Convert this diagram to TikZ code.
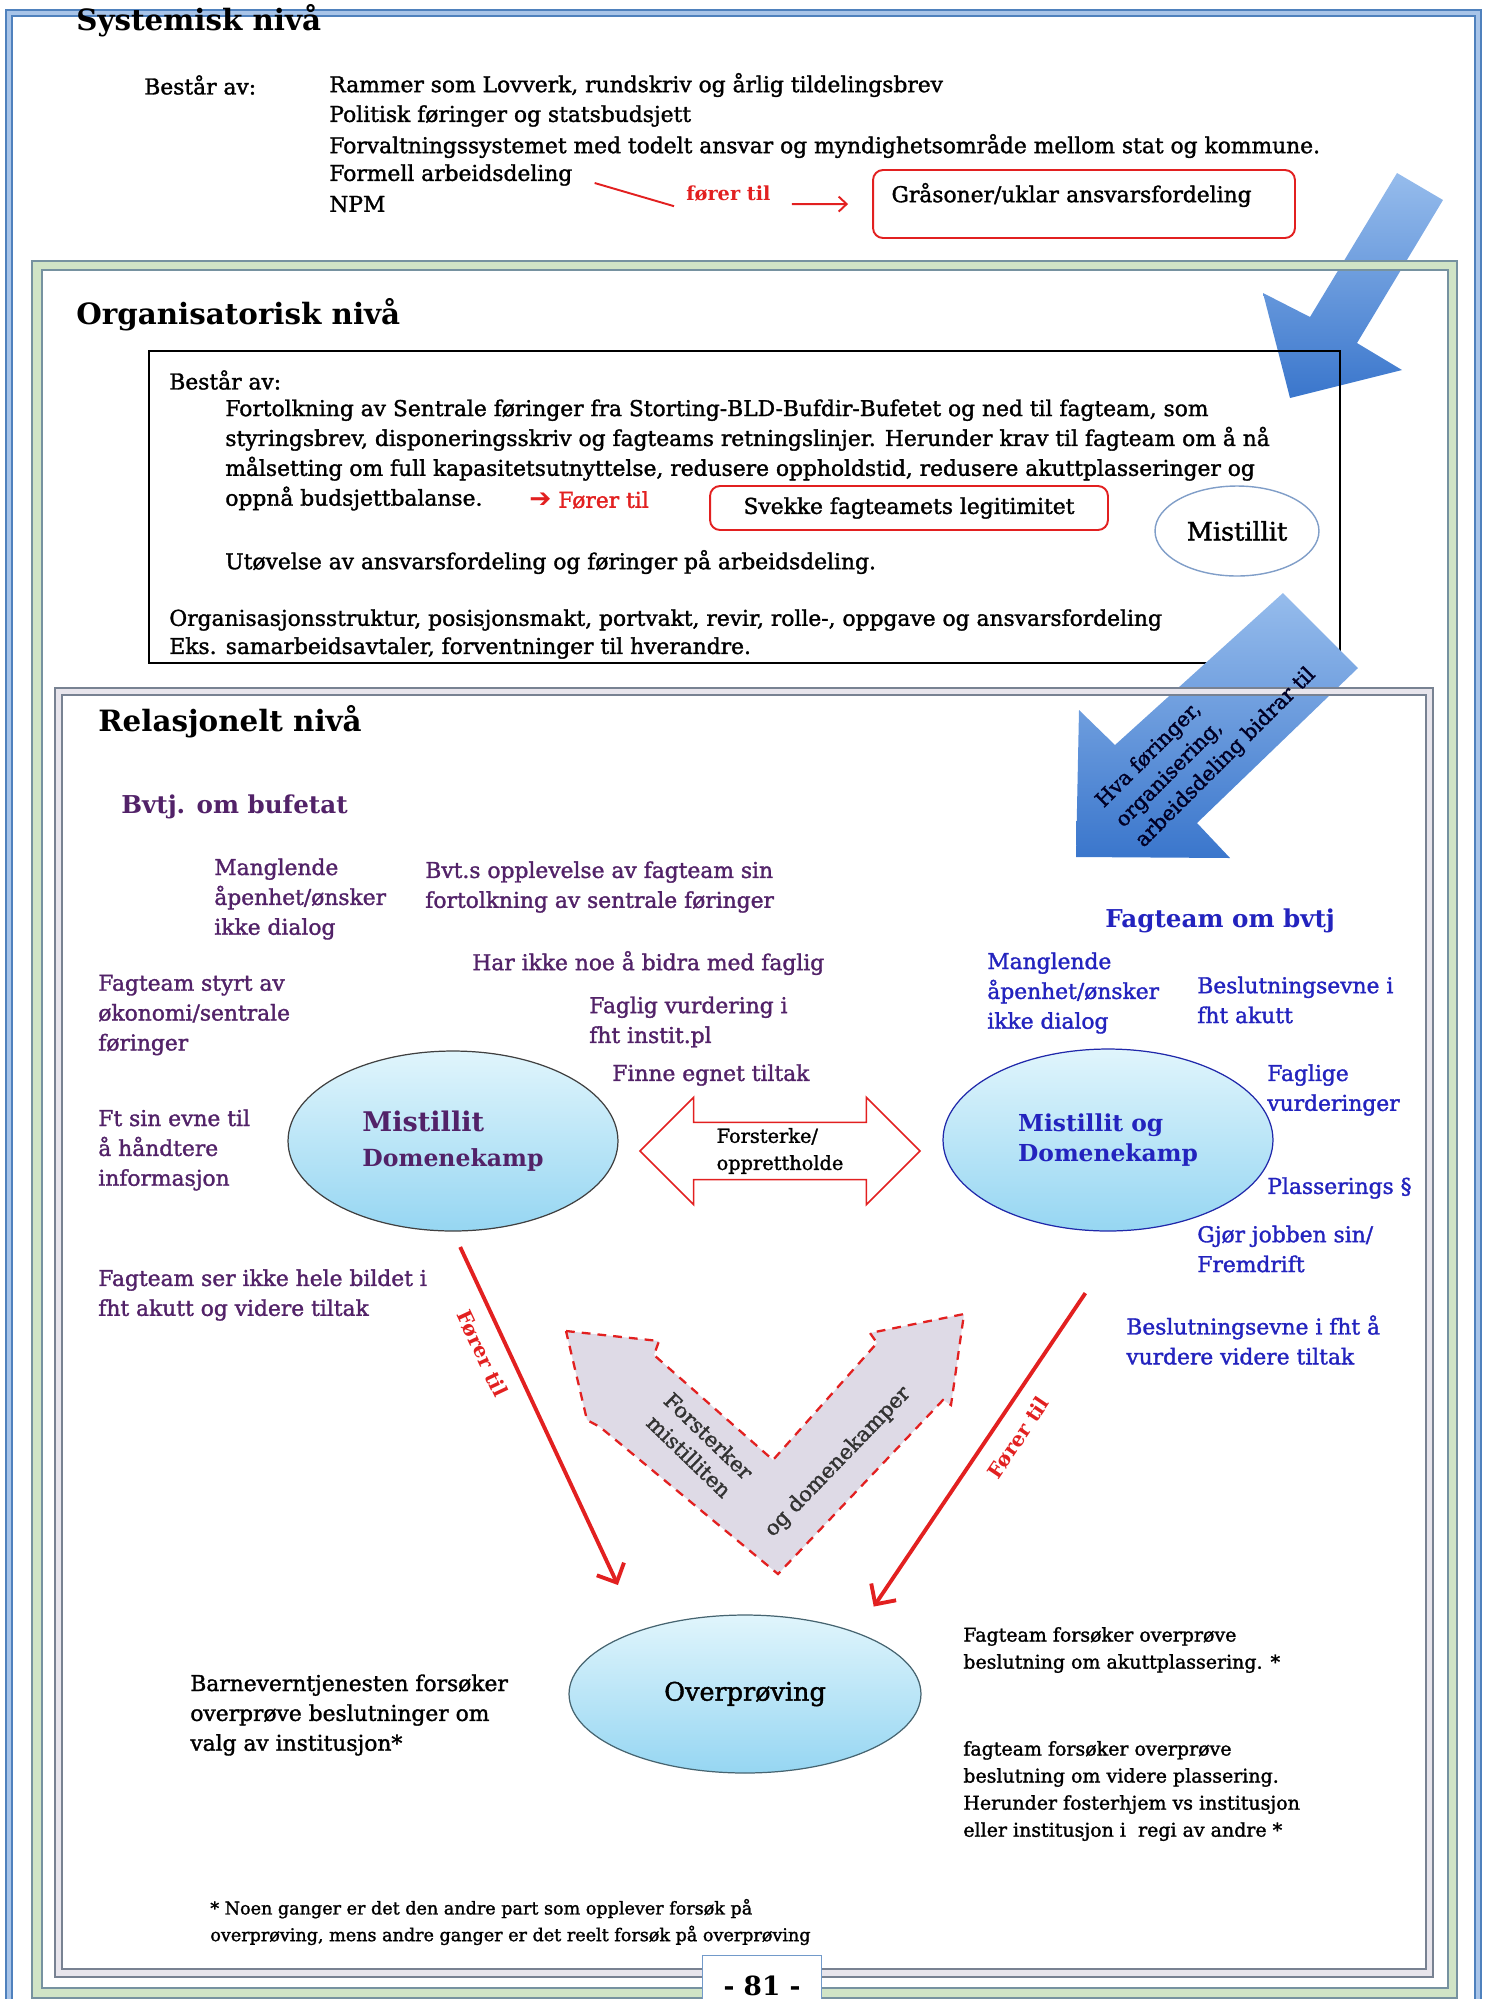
\documentclass[tikz,border=0pt]{standalone}
\usepackage{fontspec}
\setmainfont{DejaVu Serif}[UprightFeatures={FakeBold=1.5}]
\newfontfamily\symfont{DejaVu Sans}
\usetikzlibrary{shapes.geometric,shapes.arrows,arrows.meta,calc}

\definecolor{purp}{RGB}{82,34,104}
\definecolor{fagBlue}{RGB}{35,35,190}
\definecolor{redline}{RGB}{226,32,32}
\definecolor{frameBlue}{RGB}{79,129,189}
\definecolor{frameLight}{RGB}{168,196,232}
\definecolor{greenBand}{RGB}{208,228,198}
\definecolor{greenEdge}{RGB}{118,146,160}
\definecolor{relBand}{RGB}{232,229,236}
\definecolor{relEdge}{RGB}{120,130,146}
\definecolor{arrLight}{RGB}{150,188,236}
\definecolor{arrDark}{RGB}{58,118,204}
\definecolor{ellTop}{RGB}{224,245,252}
\definecolor{ellBot}{RGB}{150,214,242}
\definecolor{mistEdge}{RGB}{128,158,200}
\definecolor{mmEdge}{RGB}{32,40,170}
\definecolor{ovpEdge}{RGB}{70,100,112}
\definecolor{vFill}{RGB}{222,218,230}

\begin{document}
\begin{tikzpicture}[
  x=0.02cm, y=-0.02cm,
  every node/.style={inner sep=0pt},
  lvl/.style={anchor=west, font=\fontsize{16.7}{19}\selectfont\bfseries},
  txt/.style={anchor=west, align=left, font=\fontsize{12.4}{17}\selectfont},
  smalltxt/.style={anchor=west, align=left, font=\fontsize{10.8}{15.4}\selectfont},
  grp/.style={anchor=west, font=\fontsize{14}{17}\selectfont\bfseries},
  redbox/.style={draw=redline, line width=1.1pt, rounded corners=0.2cm, fill=white, font=\fontsize{12.4}{17}\selectfont},
  bubble/.style={ellipse, top color=ellTop, bottom color=ellBot, line width=0.7pt},
  fore/.style={draw=redline, line width=2.2pt, -{Straight Barb[length=0.3cm,width=0.6cm]}},
  forelbl/.style={sloped, below=0.3cm, pos=#1, text=redline, font=\fontsize{11.5}{14}\selectfont\bfseries},
  bigarrow/.style={top color=arrLight, bottom color=arrDark},
  framedge/.style={line width=0.8pt}
]
\useasboundingbox (0,0) rectangle (1486,1999);

\draw[frameBlue, line width=1.1pt, double=frameLight, double distance=2.2pt] (9,13) rectangle (1478,2006);

\path[bigarrow] (1397,173) -- (1443,200) -- (1357,343) -- (1402,370) -- (1290,398) -- (1263,293) -- (1310,317) -- cycle;

\fill[greenBand, even odd rule] (32,261) rectangle (1457,1998) (42,270) rectangle (1448,1988);
\draw[greenEdge, framedge] (32,261) rectangle (1457,1998) (42,270) rectangle (1448,1988);

\draw[line width=1.1pt] (149,351) rectangle (1340,663);

\path[bigarrow] (1283,593) -- (1358,668) -- (1197,823) -- (1230,858) -- (1076,857) -- (1079,710) -- (1115,745) -- cycle;

\fill[relBand, even odd rule] (55,688) rectangle (1433,1977) (62,695) rectangle (1426,1969);
\draw[relEdge, framedge] (55,688) rectangle (1433,1977) (62,695) rectangle (1426,1969);

% Systemisk
\node[lvl] (systitle) at (76,21) {Systemisk nivå};
\node[txt] (sysbest) at (144,85) {Består av:};
\node[txt] (sys1) at (329,85) {Rammer som Lovverk, rundskriv og årlig tildelingsbrev};
\node[txt] (sys2) at (329,116) {Politisk føringer og statsbudsjett};
\node[txt] (sys3) at (329,146) {Forvaltningssystemet med todelt ansvar og myndighetsområde mellom stat og kommune.};
\node[txt] (sys4) at (329,175) {Formell arbeidsdeling};
\node[txt] (sys5) at (329,204) {NPM};
\node[anchor=west, text=redline, font=\fontsize{11}{13}\selectfont\bfseries] (forer1) at (686,194) {fører til};
\node[redbox, minimum width=8.44cm, minimum height=1.36cm, text width=7.7cm, align=left] (graa) at (1084,204)
  {Gråsoner/uklar ansvarsfordeling\rule[-13pt]{0pt}{13pt}};
\draw[redline, line width=1.1pt] ($(sys4.east)+(22,8)$) -- ($(forer1.south west)+(-12,4)$);
\draw[redline, line width=1.1pt, -{Straight Barb[length=0.16cm,width=0.3cm]}, shorten >=0.48cm] ($(forer1.south east)+(21,2)$) -- (graa.west);

% Organisatorisk
\node[lvl] (orgtitle) at (76,315) {Organisatorisk nivå};
\node[txt] (orgbest) at (169,380) {Består av:};
\node[txt] (orgpara) at (225,455)
  {Fortolkning av Sentrale føringer fra Storting-BLD-Bufdir-Bufetet og ned til fagteam, som\\
   styringsbrev, disponeringsskriv og fagteams retningslinjer. Herunder krav til fagteam om å nå\\
   målsetting om full kapasitetsutnyttelse, redusere oppholdstid, redusere akuttplasseringer og\\
   oppnå budsjettbalanse.};
\node[anchor=west, text=redline, font=\fontsize{12.4}{17}\selectfont] (forer2) at (529,500) {{\symfont\bfseries\fontsize{15}{17}\selectfont ➔} Fører til};
\node[redbox, minimum width=7.96cm, minimum height=0.88cm] (svekke) at (909,508) {Svekke fagteamets legitimitet};
\node[ellipse, draw=mistEdge, line width=0.8pt, fill=white, minimum width=3.28cm, minimum height=1.8cm,
  font=\fontsize{14.5}{17}\selectfont] (mist0) at (1237,531) {Mistillit};
\node[txt] (utov) at (225,562) {Utøvelse av ansvarsfordeling og føringer på arbeidsdeling.};
\node[txt, font=\fontsize{12.4}{16}\selectfont] (orgstr) at (169,634)
  {Organisasjonsstruktur, posisjonsmakt, portvakt, revir, rolle-, oppgave og ansvarsfordeling\\
   Eks. samarbeidsavtaler, forventninger til hverandre.};

\node[rotate=45, align=left, text=black!85!blue, font=\fontsize{11.8}{16}\selectfont] (hva) at (1206,738)
  {Hva føringer,\\organisering,\\arbeidsdeling bidrar til};

% Relasjonelt
\node[lvl] (reltitle) at (98,722) {Relasjonelt nivå};
\node[grp, text=purp] (bvtj) at (121,807) {Bvtj. om bufetat};
\node[txt, text=purp] (l1) at (214,899) {Manglende\\åpenhet/ønsker\\ikke dialog};
\node[txt, text=purp] (l2) at (425,887) {Bvt.s opplevelse av fagteam sin\\fortolkning av sentrale føringer};
\node[txt, text=purp] (l3) at (472,963) {Har ikke noe å bidra med faglig};
\node[txt, text=purp] (l4) at (98,1015) {Fagteam styrt av\\økonomi/sentrale\\føringer};
\node[txt, text=purp] (l5) at (589,1022) {Faglig vurdering i\\fht instit.pl};
\node[txt, text=purp] (l6) at (612,1075) {Finne egnet tiltak};
\node[txt, text=purp] (l7) at (98,1150) {Ft sin evne til\\å håndtere\\informasjon};
\node[txt, text=purp] (l8) at (98,1295) {Fagteam ser ikke hele bildet i\\fht akutt og videre tiltak};

\node[bubble, draw=black!75, minimum width=6.6cm, minimum height=3.6cm, text=purp, align=left,
  font=\fontsize{13.4}{20}\selectfont\bfseries] (mdk) at (453,1141)
  {{\fontsize{15.4}{20}\selectfont Mistillit}\\Domenekamp};

\node[grp, text=fagBlue] (fagbvtj) at (1105,921) {Fagteam om bvtj};
\node[txt, text=fagBlue] (r1) at (987,993) {Manglende\\åpenhet/ønsker\\ikke dialog};
\node[txt, text=fagBlue] (r2) at (1197,1000) {Beslutningsevne i\\fht akutt};
\node[txt, text=fagBlue] (r3) at (1267,1090) {Faglige\\vurderinger};
\node[txt, text=fagBlue] (r4) at (1267,1188) {Plasserings §};
\node[txt, text=fagBlue] (r5) at (1197,1249) {Gjør jobben sin/\\Fremdrift};
\node[txt, text=fagBlue] (r6) at (1126,1340) {Beslutningsevne i fht å\\vurdere videre tiltak};

\node[bubble, draw=mmEdge, minimum width=6.6cm, minimum height=3.64cm, text=fagBlue, align=left,
  font=\fontsize{13.3}{17}\selectfont\bfseries] (mm) at (1108,1140) {Mistillit og\\Domenekamp};

\node[double arrow, draw=redline, line width=0.9pt, fill=white, minimum height=5.6cm,
  double arrow head extend=0.5cm, inner xsep=0.1cm, inner ysep=0.1cm, align=left,
  font=\fontsize{11}{15.4}\selectfont] (forst) at (780,1151) {Forsterke/\\opprettholde};

\node[bubble, draw=ovpEdge, minimum width=7.04cm, minimum height=3.16cm,
  font=\fontsize{14.5}{17}\selectfont] (ovp) at (745,1694) {Overprøving};

\draw[fore, shorten <=0.34cm, shorten >=1cm] (mdk.south) -- node[forelbl=0.28] (fl1) {Fører til} (ovp.149);
\draw[fore, shorten <=1.5cm, shorten >=0.62cm] (mm.-78) -- node[forelbl=0.48] (fl2) {Fører til} (ovp.29);

\draw[redline, line width=1.3pt, dash pattern=on 5pt off 4pt, fill=vFill]
  (566,1331) -- (659,1341) -- (654,1355) -- (773,1460) -- (877,1343) -- (870,1333) -- (964,1314)
  -- (951,1405) -- (943,1400) -- (778,1574) -- (600,1427) -- (587,1420) -- cycle;
\node[rotate=-44, align=center, text=black!80, font=\fontsize{12}{16}\selectfont] (vleft) at (699,1446) {Forsterker\\mistilliten};
\node[rotate=46, text=black!80, font=\fontsize{12}{16}\selectfont] (vright) at (838,1462) {og domenekamper};

\node[smalltxt] (o1) at (963,1650) {Fagteam forsøker overprøve\\beslutning om akuttplassering. *};
\node[smalltxt] (o2) at (963,1791)
  {fagteam forsøker overprøve\\beslutning om videre plassering.\\Herunder fosterhjem vs institusjon\\eller institusjon i\ \ regi av andre *};
\node[txt] (o3) at (190,1715) {Barneverntjenesten forsøker\\overprøve beslutninger om\\valg av institusjon*};
\node[smalltxt, font=\fontsize{10}{15.2}\selectfont] (fnote) at (210,1922)
  {* Noen ganger er det den andre part som opplever forsøk på\\overprøving, mens andre ganger er det reelt forsøk på overprøving};

\node[draw=frameBlue!80, fill=white, line width=0.8pt, minimum width=2.38cm, minimum height=1.2cm, anchor=north,
  font=\fontsize{15}{18}\selectfont\bfseries] (pgnum) at (762,1955) {- 81 -};
\end{tikzpicture}
\end{document}
